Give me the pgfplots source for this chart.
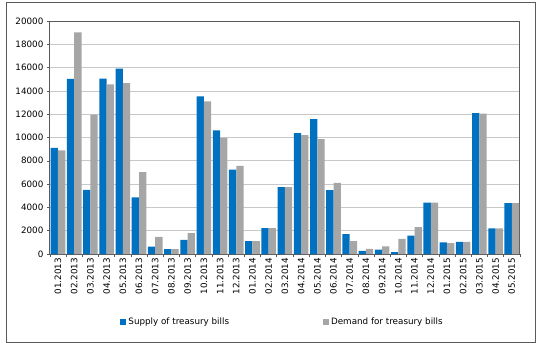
\documentclass[border=0pt]{standalone}
\usepackage{pgfplots}
\pgfplotsset{compat=1.18}
\usepackage{fontspec}
\setmainfont{DejaVu Sans}
\definecolor{supplyblue}{RGB}{0,112,192}
\definecolor{demandgray}{RGB}{166,166,166}
\definecolor{gridgray}{RGB}{200,200,200}
\definecolor{framegray}{RGB}{90,90,90}
\begin{document}
\begin{tikzpicture}
\useasboundingbox (-58bp,-89bp) rectangle (478bp,254bp);
\draw[framegray, line width=0.8bp] (-52bp,-88.5bp) rectangle (477.5bp,252bp);
\begin{axis}[
  at={(0,0)}, anchor=origin,
  scale only axis, width=470bp, height=233bp,
  ybar, bar width=7.3bp,
  xmin=-0.5, xmax=28.5,
  ymin=0, ymax=20000,
  ytick={0,2000,...,20000},
  scaled y ticks=false,
  xtick={0,...,28},
  xticklabels={01.2013,02.2013,03.2013,04.2013,05.2013,06.2013,07.2013,08.2013,09.2013,10.2013,11.2013,12.2013,01.2014,02.2014,03.2014,04.2014,05.2014,06.2014,07.2014,08.2014,09.2014,10.2014,11.2014,12.2014,01.2015,02.2015,03.2015,04.2015,05.2015},
  minor xtick={-0.5,0.5,...,28.5},
  major x tick style={draw=none},
  minor x tick style={framegray, line width=0.6bp},
  x tick label style={rotate=90, anchor=east, font=\fontsize{8.8}{10}\selectfont, inner sep=1bp},
  y tick label style={font=\fontsize{8.8}{10}\selectfont},
  y tick style={framegray, line width=0.6bp},
  tick align=outside, tick pos=left,
  major tick length=3bp, minor tick length=3bp,
  ymajorgrids, grid style={gridgray, line width=0.8bp},
  axis line style={framegray, line width=0.8bp},
  /pgf/number format/.cd, 1000 sep={}, fixed, assume math mode=true,
  /pgfplots/.cd,
  legend columns=2,
  legend style={at={(0.495,-0.292)}, anchor=center, draw=none, fill=none,
    font=\fontsize{8.8}{10}\selectfont,
    /tikz/every even column/.append style={column sep=92bp}},
  legend image code/.code={\fill[#1] (0bp,-3bp) rectangle (6bp,3bp);},
]
\addplot[fill=supplyblue, draw=none, bar shift=-3.65bp] coordinates {
(0,9100) (1,15030) (2,5500) (3,15050) (4,15910) (5,4850) (6,640) (7,420) (8,1220)
(9,13540) (10,10620) (11,7250) (12,1110) (13,2220) (14,5740) (15,10370) (16,11570)
(17,5480) (18,1710) (19,260) (20,370) (21,170) (22,1570) (23,4420) (24,1000)
(25,1050) (26,12090) (27,2190) (28,4370)};
\addplot[fill=demandgray, draw=none, bar shift=3.65bp] coordinates {
(0,8890) (1,19030) (2,11970) (3,14570) (4,14660) (5,7020) (6,1480) (7,420) (8,1800)
(9,13110) (10,9970) (11,7570) (12,1110) (13,2220) (14,5740) (15,10200) (16,9860)
(17,6110) (18,1110) (19,430) (20,660) (21,1290) (22,2310) (23,4420) (24,940)
(25,1050) (26,12060) (27,2190) (28,4370)};
\legend{Supply of treasury bills, Demand for treasury bills}
\end{axis}
\end{tikzpicture}
\end{document}
